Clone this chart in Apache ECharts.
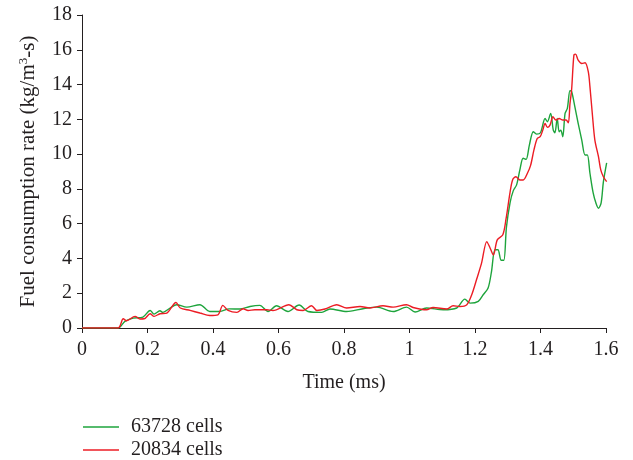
<!DOCTYPE html>
<html>
<head>
<meta charset="utf-8">
<script src="https://cdn.jsdelivr.net/npm/echarts@6/dist/echarts.min.js"></script>
<style>html,body{margin:0;padding:0;background:#fff;}#c{width:633px;height:460px;}</style>
</head>
<body>
<div id="c"></div>
<script>
var xTicks = [0, 0.2, 0.4, 0.6, 0.8, 1, 1.2, 1.4, 1.6];
var yTicks = [0, 2, 4, 6, 8, 10, 12, 14, 16, 18];
var seriesNames = ['63728 cells', '20834 cells'];

var greenTime = [0,0.11,0.131,0.156,0.186,0.208,0.22,0.238,0.247,0.269,0.289,0.32,0.36,0.39,0.42,0.45,0.482,0.513,0.543,0.568,0.594,0.629,0.663,0.69,0.732,0.757,0.808,0.858,0.9,0.95,0.991,1.017,1.052,1.103,1.144,1.169,1.185,1.21,1.225,1.24,1.25,1.261,1.27,1.28,1.288,1.296,1.307,1.317,1.327,1.337,1.347,1.356,1.366,1.378,1.388,1.4,1.414,1.421,1.431,1.439,1.444,1.451,1.457,1.462,1.468,1.475,1.482,1.49,1.495,1.505,1.515,1.526,1.536,1.543,1.551,1.561,1.569,1.577,1.585,1.592,1.602];
var greenRate = [0,0,0.38,0.57,0.63,1.01,0.8,0.99,0.9,1.15,1.34,1.2,1.34,0.95,0.95,1.1,1.09,1.24,1.3,0.95,1.28,0.95,1.32,0.95,0.9,1.09,0.95,1.11,1.2,0.95,1.2,0.92,1.15,1.05,1.15,1.66,1.43,1.53,1.91,2.3,3.2,4.5,4.5,3.9,3.9,5.8,7.2,7.9,8.23,9.09,9.76,9.7,10.52,11.29,11.15,11.23,12.05,11.86,12.34,11.38,11.23,12.05,11.29,11.38,11.0,12.34,12.63,13.64,13.6,12.72,11.77,10.81,9.95,9.95,8.9,7.75,7.2,6.89,7.18,8.4,9.5];

var redTime = [0,0.11,0.126,0.136,0.162,0.177,0.19,0.208,0.22,0.238,0.259,0.287,0.3,0.33,0.36,0.39,0.415,0.43,0.446,0.473,0.492,0.507,0.528,0.564,0.583,0.632,0.656,0.675,0.701,0.717,0.742,0.778,0.808,0.849,0.879,0.919,0.95,0.991,1.011,1.052,1.072,1.114,1.133,1.154,1.175,1.19,1.205,1.22,1.236,1.246,1.256,1.268,1.285,1.295,1.307,1.315,1.325,1.337,1.347,1.36,1.37,1.38,1.39,1.399,1.407,1.414,1.421,1.429,1.438,1.447,1.457,1.468,1.478,1.485,1.49,1.495,1.502,1.507,1.515,1.526,1.536,1.546,1.551,1.559,1.566,1.577,1.584,1.592,1.602];
var redRate = [0,0,0.53,0.42,0.67,0.52,0.53,0.82,0.67,0.82,0.86,1.47,1.15,1.01,0.86,0.72,0.76,1.3,1.01,0.9,1.11,1.01,1.05,1.05,1.01,1.34,1.05,1.01,1.28,1.01,1.09,1.34,1.15,1.24,1.15,1.28,1.2,1.34,1.18,1.05,1.18,1.09,1.28,1.24,1.34,1.91,2.8,3.73,4.97,4.6,4.2,5.07,5.36,6.3,7.8,8.53,8.7,8.51,8.51,8.9,9.37,10.24,10.9,11.0,11.38,11.77,11.54,11.67,12.15,11.96,12.05,11.96,11.96,11.8,12.9,13.7,15.69,15.75,15.4,15.21,15.25,14.73,13.87,12.15,10.81,9.85,9.09,8.7,8.42];

function pairs(t, v) { return t.map(function (x, i) { return [x, v[i]]; }); }

var FONT = 'Liberation Serif';
var TXT = '#231f20';
var GREEN = '#1ea43c';
var RED = '#ec1c24';
function legendFor(name, top) {
  return {
    orient: 'vertical', left: 83, top: top, padding: 0, itemWidth: 36, itemHeight: 14,
    textStyle: {fontFamily: FONT, fontSize: 20, color: TXT, padding: [0, 0, 0, 7]},
    data: [{name: name, icon: 'path://M0,0L36,0L36,1.3L0,1.3Z'}]
  };
}
var chart = echarts.init(document.getElementById('c'), null, {renderer: 'canvas'});
chart.setOption({
  animation: false,
  backgroundColor: '#ffffff',
  textStyle: {fontFamily: FONT, color: TXT},
  grid: {left: 82, right: 27, top: 15, bottom: 132, containLabel: false},
  legend: [legendFor(seriesNames[0], 417), legendFor(seriesNames[1], 440)],
  xAxis: {
    type: 'value', min: xTicks[0], max: xTicks[xTicks.length - 1], interval: 0.2,
    name: 'Time (ms)', nameLocation: 'middle', nameGap: 45,
    nameTextStyle: {fontFamily: FONT, fontSize: 20, color: TXT},
    axisLine: {show: true, lineStyle: {color: '#231f20', width: 1}},
    axisTick: {show: true, inside: false, length: 5, lineStyle: {color: '#231f20'}},
    axisLabel: {fontFamily: FONT, fontSize: 20, color: TXT, margin: 12,
      formatter: function (v) { return String(Math.round(v * 10) / 10); }},
    splitLine: {show: false}
  },
  yAxis: {
    type: 'value', min: yTicks[0], max: yTicks[yTicks.length - 1], interval: 2,
    name: 'Fuel consumption rate (kg/m{sup|3}-s)', nameLocation: 'middle', nameGap: 42,
    nameTextStyle: {fontFamily: FONT, fontSize: 21, color: TXT,
      rich: {sup: {fontFamily: FONT, fontSize: 13, color: TXT, verticalAlign: 'top', padding: [0, 0, 10, 0]}}},
    axisLine: {show: true, lineStyle: {color: '#231f20', width: 1}},
    axisTick: {show: true, inside: false, length: 5, lineStyle: {color: '#231f20'}},
    axisLabel: {fontFamily: FONT, fontSize: 20, color: TXT, margin: 10},
    splitLine: {show: false}
  },
  series: [
    {name: seriesNames[0], type: 'line', data: pairs(greenTime, greenRate), showSymbol: false, symbol: 'none',
     smooth: 0.3, lineStyle: {color: GREEN, width: 1.4}, itemStyle: {color: GREEN}, z: 2},
    {name: seriesNames[1], type: 'line', data: pairs(redTime, redRate), showSymbol: false, symbol: 'none',
     smooth: 0.3, lineStyle: {color: RED, width: 1.4}, itemStyle: {color: RED}, z: 3}
  ]
});
</script>
</body>
</html>
